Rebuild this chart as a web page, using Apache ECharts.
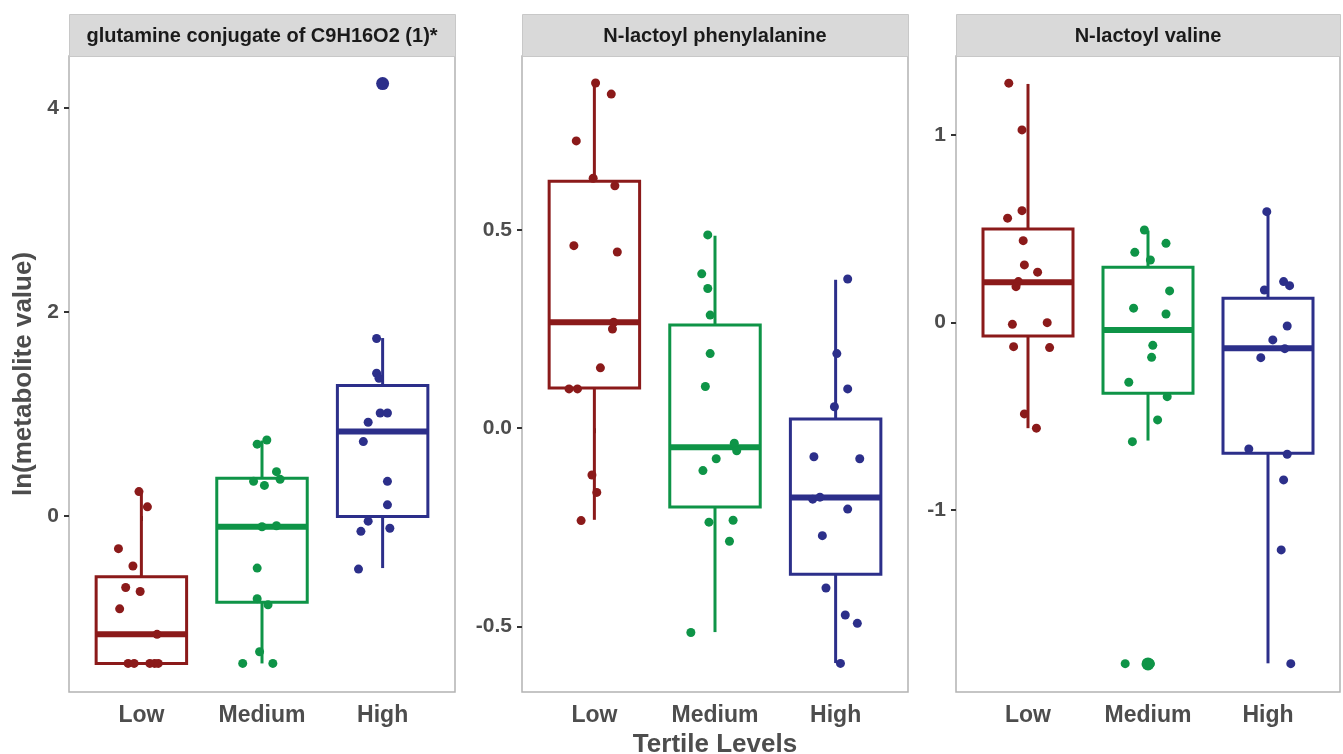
<!DOCTYPE html>
<html>
<head>
<meta charset="utf-8">
<title>Tertile boxplots</title>
<script src="https://cdn.jsdelivr.net/npm/echarts@6/dist/echarts.min.js"></script>
<style>
  html, body { margin: 0; padding: 0; background: #fff; }
  #chart { width: 1343px; height: 754px; }
</style>
</head>
<body>
<div id="chart"></div>
<script>
// categories and panels
const categories = ['Low', 'Medium', 'High']
const panelTitles = ['glutamine conjugate of C9H16O2 (1)*', 'N-lactoyl phenylalanine', 'N-lactoyl valine']
const groupColors = ['#8B1A1A', '#0E9447', '#2C2F8A']

// y tick values per panel
const yTicks1 = [0, 2, 4]
const yTicks2 = [-0.5, 0, 0.5]
const yTicks3 = [-1, 0, 1]

// box stats per group: [lower whisker, q1, median, q3, upper whisker]
const box1 = [[-1.445, -1.445, -1.16, -0.595, 0.24], [-1.445, -0.846, -0.105, 0.37, 0.74], [-0.51, -0.005, 0.83, 1.28, 1.745]]
const box2 = [[-0.231, 0.101, 0.267, 0.622, 0.870], [-0.514, -0.199, -0.048, 0.260, 0.485], [-0.592, -0.368, -0.175, 0.023, 0.374]]
const box3 = [[-0.563, -0.071, 0.215, 0.50, 1.273], [-0.629, -0.377, -0.039, 0.295, 0.491], [-1.817, -0.697, -0.137, 0.130, 0.592]]

// outliers: [group index, value]
const outliers1 = [[2, 4.24]]
const outliers2 = []
const outliers3 = [[1, -1.82]]

// jittered points: [jitter offset, value] per group
const pts1Low = [[-0.02, 0.24], [0.05, 0.09], [-0.19, -0.32], [-0.07, -0.49], [-0.13, -0.70], [-0.01, -0.74], [-0.18, -0.91], [0.13, -1.16], [-0.11, -1.445], [-0.06, -1.445], [0.07, -1.445], [0.11, -1.445], [0.14, -1.445]]
const pts1Med = [[-0.04, 0.705], [0.04, 0.745], [0.12, 0.435], [0.15, 0.36], [-0.07, 0.34], [0.02, 0.30], [0, -0.105], [0.12, -0.095], [-0.04, -0.51], [-0.04, -0.81], [0.05, -0.87], [-0.02, -1.33], [-0.16, -1.445], [0.09, -1.445]]
const pts1High = [[-0.01, 4.24], [-0.05, 1.74], [-0.05, 1.40], [-0.03, 1.35], [-0.02, 1.01], [0.04, 1.01], [-0.12, 0.92], [-0.16, 0.73], [0.04, 0.34], [0.04, 0.11], [-0.12, -0.05], [-0.18, -0.15], [0.06, -0.12], [-0.20, -0.52]]

const pts2Low = [[0.01, 0.870], [0.14, 0.842], [-0.15, 0.724], [-0.01, 0.630], [0.17, 0.611], [-0.17, 0.460], [0.19, 0.444], [0.16, 0.267], [0.15, 0.250], [0.05, 0.152], [-0.21, 0.099], [-0.14, 0.099], [-0.02, -0.118], [0.02, -0.162], [-0.11, -0.233]]
const pts2Med = [[-0.06, 0.487], [-0.11, 0.389], [-0.06, 0.352], [-0.04, 0.285], [-0.04, 0.188], [-0.08, 0.105], [0.16, -0.038], [0.18, -0.057], [0.01, -0.077], [-0.10, -0.107], [-0.05, -0.237], [0.15, -0.232], [0.12, -0.285], [-0.20, -0.515]]
const pts2High = [[0.10, 0.376], [0.01, 0.188], [0.10, 0.099], [-0.01, 0.054], [-0.18, -0.072], [0.20, -0.077], [-0.19, -0.179], [-0.13, -0.174], [0.10, -0.204], [-0.11, -0.271], [-0.08, -0.403], [0.08, -0.471], [0.18, -0.492], [0.04, -0.593]]

const pts3Low = [[-0.16, 1.277], [-0.05, 1.028], [-0.05, 0.597], [-0.17, 0.557], [-0.04, 0.437], [-0.03, 0.308], [0.08, 0.269], [-0.08, 0.219], [-0.10, 0.192], [-0.13, -0.009], [0.16, 0.0], [-0.12, -0.128], [0.18, -0.133], [-0.03, -0.487], [0.07, -0.563]]
const pts3Med = [[-0.03, 0.494], [0.15, 0.423], [-0.11, 0.375], [0.02, 0.334], [0.18, 0.169], [-0.12, 0.077], [0.15, 0.046], [0.04, -0.121], [0.03, -0.185], [-0.16, -0.318], [0.16, -0.395], [0.08, -0.519], [-0.13, -0.635], [-0.19, -1.819], [0.02, -1.819]]
const pts3High = [[-0.01, 0.592], [0.13, 0.219], [0.18, 0.197], [-0.03, 0.174], [0.16, -0.018], [0.04, -0.092], [0.14, -0.139], [-0.06, -0.187], [-0.16, -0.674], [0.16, -0.702], [0.13, -0.839], [0.11, -1.212], [0.19, -1.819]]

const panels = [
    { box: box1, pts: [pts1Low, pts1Med, pts1High], out: outliers1, ticks: yTicks1, min: -1.725, max: 4.51, left: 69, width: 386, dec: 0 },
    { box: box2, pts: [pts2Low, pts2Med, pts2High], out: outliers2, ticks: yTicks2, min: -0.665, max: 0.938, left: 522, width: 386, dec: 1 },
    { box: box3, pts: [pts3Low, pts3Med, pts3High], out: outliers3, ticks: yTicks3, min: -1.97, max: 1.422, left: 956, width: 384, dec: 0 }
]

const font = "'Liberation Sans', Arial, sans-serif"
const gridTop = 56
const gridBottom = 62

let myChart = echarts.init(document.getElementById('chart'))

const grid = [], xAxis = [], yAxis = [], series = [], graphic = []

panels.forEach(function (p, i) {
    grid.push({
        left: p.left, width: p.width, top: gridTop, bottom: gridBottom,
        containLabel: false, outerBoundsMode: 'none',
        show: true, borderColor: '#B3B3B3', borderWidth: 1.5, backgroundColor: '#fff'
    })
    xAxis.push({
        type: 'value', gridIndex: i, min: 0.4, max: 3.6,
        axisLine: { show: false },
        splitLine: { show: false },
        axisTick: { show: true, length: 5, lineStyle: { color: '#333', width: 2 }, customValues: [1, 2, 3] },
        axisLabel: {
            customValues: [1, 2, 3], margin: 12,
            formatter: function (v) { return categories[Math.round(v) - 1] || '' },
            color: '#4D4D4D', fontSize: 23, fontWeight: 'bold', fontFamily: font
        },
        name: i === 1 ? 'Tertile Levels' : '', nameLocation: 'middle', nameGap: 35,
        nameTextStyle: { color: '#4D4D4D', fontSize: 26, fontWeight: 'bold', fontFamily: font }
    })
    yAxis.push({
        type: 'value', gridIndex: i, min: p.min, max: p.max,
        axisLine: { show: false },
        splitLine: { show: false },
        axisTick: { show: true, length: 5, lineStyle: { color: '#333', width: 2 }, customValues: p.ticks },
        axisLabel: {
            customValues: p.ticks, margin: 10,
            formatter: function (v) { return v.toFixed(p.dec) },
            color: '#4D4D4D', fontSize: 21, fontWeight: 'bold', fontFamily: font
        },
        name: i === 0 ? 'ln(metabolite value)' : '', nameLocation: 'middle', nameGap: 32,
        nameTextStyle: { color: '#4D4D4D', fontSize: 26, fontWeight: 'bold', fontFamily: font }
    })

    // boxes
    series.push({
        type: 'custom', xAxisIndex: i, yAxisIndex: i, z: 2,
        data: p.box.map(function (b, g) { return [g + 1].concat(b) }),
        renderItem: function (params, api) {
            const x = api.value(0)
            const col = groupColors[params.dataIndex]
            const lo = api.coord([x, api.value(1)])
            const q1 = api.coord([x, api.value(2)])
            const med = api.value(3)
            const q3 = api.coord([x, api.value(4)])
            const hi = api.coord([x, api.value(5)])
            const l = api.coord([x - 0.375, med])
            const r = api.coord([x + 0.375, med])
            const line = { stroke: col, lineWidth: 3 }
            return {
                type: 'group',
                children: [
                    { type: 'line', shape: { x1: lo[0], y1: lo[1], x2: q1[0], y2: q1[1] }, style: line },
                    { type: 'line', shape: { x1: q3[0], y1: q3[1], x2: hi[0], y2: hi[1] }, style: line },
                    { type: 'rect', shape: { x: l[0], y: q3[1], width: r[0] - l[0], height: q1[1] - q3[1] }, style: { fill: '#fff', stroke: col, lineWidth: 3 } },
                    { type: 'line', shape: { x1: l[0], y1: l[1], x2: r[0], y2: r[1] }, style: { stroke: col, lineWidth: 6 } }
                ]
            }
        }
    })

    // outliers
    series.push({
        type: 'scatter', xAxisIndex: i, yAxisIndex: i, z: 3,
        symbolSize: 13,
        data: p.out.map(function (o) { return { value: [o[0] + 1, o[1]], itemStyle: { color: groupColors[o[0]], opacity: 1 } } })
    })

    // jittered points
    p.pts.forEach(function (arr, g) {
        series.push({
            type: 'scatter', xAxisIndex: i, yAxisIndex: i, z: 4,
            symbolSize: 9,
            itemStyle: { color: groupColors[g], opacity: 1 },
            data: arr.map(function (d) { return [g + 1 + d[0], d[1]] })
        })
    })

    // strip header
    graphic.push({
        type: 'rect', left: p.left, top: 14,
        shape: { width: p.width, height: gridTop - 14 },
        style: { fill: '#D9D9D9', stroke: '#C8C8C8', lineWidth: 1 }
    })
    graphic.push({
        type: 'text', x: p.left + p.width / 2, y: 36,
        style: {
            text: panelTitles[i], align: 'center', verticalAlign: 'middle',
            fill: '#1A1A1A', fontSize: 20, fontWeight: 'bold', fontFamily: font
        }
    })
})

myChart.setOption({
    animation: false,
    backgroundColor: '#fff',
    grid: grid,
    xAxis: xAxis,
    yAxis: yAxis,
    series: series,
    graphic: graphic
})
</script>
</body>
</html>
